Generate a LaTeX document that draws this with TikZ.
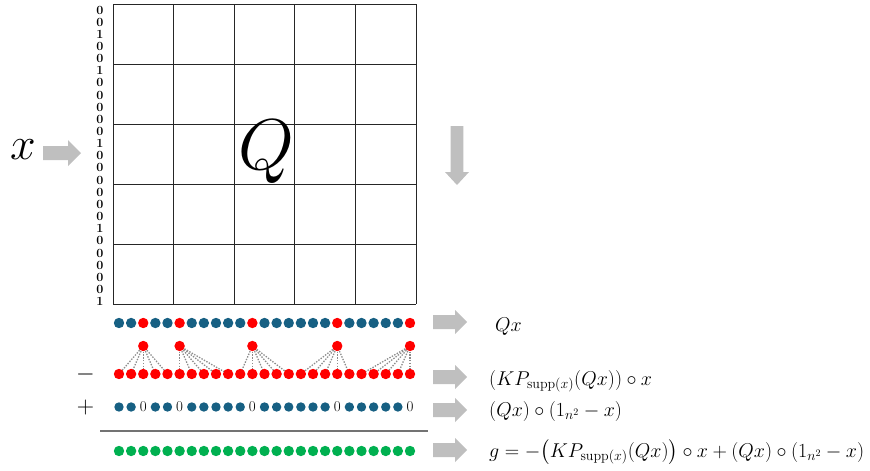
\RequirePackage{fix-cm}
\documentclass[tikz,border=0pt]{standalone}
\usepackage{amsmath}
\usetikzlibrary{backgrounds}
\definecolor{dotblue}{HTML}{176083}
\definecolor{dotred}{HTML}{FF0000}
\definecolor{dotgreen}{HTML}{00B050}
\definecolor{arrgray}{HTML}{BFBFBF}
\definecolor{linkgray}{HTML}{8C8C8C}
\begin{document}
\begin{tikzpicture}[x=1pt,y=-1pt,
  dotbase/.style={circle,inner sep=0pt,minimum size=10.4pt},
  dotb/.style={dotbase,fill=dotblue},
  dotbs/.style={dotbase,fill=dotblue,minimum size=9.4pt},
  dotr/.style={dotbase,fill=dotred},
  dotg/.style={dotbase,fill=dotgreen},
  zerotxt/.style={inner sep=0pt,font=\fontsize{15}{15}\selectfont},
  digit/.style={inner sep=0pt,font=\fontsize{12.5}{12.5}\selectfont\bfseries},
  gridline/.style={line width=1pt,black!85},
  blockarr/.style={fill=arrgray},
  linkline/.style={linkgray,line width=1.3pt,dash pattern=on 1.4pt off 1.4pt},
  lbl/.style={inner sep=0pt,anchor=base west,font=\fontsize{20}{22}\selectfont},
  sign/.style={inner sep=0pt,font=\fontsize{24}{24}\selectfont}]
\useasboundingbox (0,0) rectangle (870,471);
% grid
\foreach \j in {0,...,5} {
  \draw[gridline] ({113+60.6*\j},4) -- ({113+60.6*\j},304);
  \draw[gridline] (113,{4+60*\j}) -- (416,{4+60*\j});
}
\node[inner sep=0pt,font=\fontsize{72}{72}\selectfont] (Q) at (266,152) {$Q$};
\node[inner sep=0pt,font=\fontsize{46}{46}\selectfont] (xin) at (23,150) {$x$};
% digit column
\foreach \d [count=\i from 0] in {0,0,1,0,0,1,0,0,0,0,0,1,0,0,0,0,0,0,1,0,0,0,0,0,1} {
  \node[digit] (d\i) at (100,{10+12.15*\i}) {\d};
}
% arrows
\fill[blockarr] (43,146) -- (68,146) -- (68,140) -- (81,153) -- (68,166) -- (68,160) -- (43,160) -- cycle;
\fill[blockarr] (450.7,126) -- (463.3,126) -- (463.3,172) -- (469,172) -- (457,185) -- (445,172) -- (450.7,172) -- cycle;
\foreach \c in {322,377,410,450} {
  \fill[blockarr] (433,\c-7) -- (455,\c-7) -- (455,\c-12) -- (467,\c) -- (455,\c+12) -- (455,\c+7) -- (433,\c+7) -- cycle;
}
% dot rows
\foreach \i in {0,...,24} {
  \pgfmathsetmacro\xx{119+12.125*\i}
  \pgfmathtruncatemacro\isred{(\i==2)||(\i==5)||(\i==11)||(\i==18)||(\i==24)}
  \ifnum\isred=1
    \node[dotr] (q\i) at (\xx,323) {};
    \node[zerotxt] (p\i) at (\xx,407) {0};
  \else
    \node[dotb] (q\i) at (\xx,323) {};
    \node[dotbs] (p\i) at (\xx,407) {};
  \fi
  \node[dotr] (r\i) at (\xx,374) {};
  \node[dotg] (g\i) at (\xx,451) {};
}
\foreach \k/\j in {0/2,1/5,2/11,3/18,4/24} {
  \node[dotr] (u\k) at ({119+12.125*\j},346) {};
}
\begin{pgfonlayer}{background}
\foreach \k in {0,...,4} {
  \foreach \m in {0,...,4} {
    \pgfmathtruncatemacro\t{5*\k+\m}
    \draw[linkline] (u\k.center) -- (r\t.center);
  }
}
\end{pgfonlayer}
% separator
\coordinate (ls) at (100,431);
\coordinate (le) at (428,431);
\draw[line width=1.2pt,black!55] (ls) -- (le);
% signs
\node[sign] (minus) at (85.5,374) {$-$};
\node[sign] (plus) at (85.5,407) {$+$};
% labels
\node[lbl] (l1) at (495,331) {$Qx$};
\node[lbl] (l2) at (489,385) {$(KP_{\mathrm{supp}(x)}(Qx))\circ x$};
\node[lbl] (l3) at (489,416) {$(Qx)\circ(1_{n^2}-x)$};
\node[lbl] (l4) at (489,457) {$g=-\bigl(KP_{\mathrm{supp}(x)}(Qx)\bigr)\circ x+(Qx)\circ(1_{n^2}-x)$};
\end{tikzpicture}
\end{document}
